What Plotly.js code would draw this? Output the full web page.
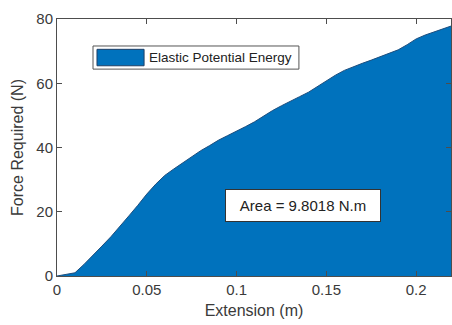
<!DOCTYPE html>
<html>
<head>
<meta charset="utf-8">
<script src="https://cdn.plot.ly/plotly-3.0.1.min.js"></script>
<style>html,body{margin:0;padding:0;background:#fff;}#chart{width:452px;height:325px;}</style>
</head>
<body>
<div id="chart"></div>
<script>
// Extension (m)
const extension = [0, 0.005, 0.01, 0.015, 0.02, 0.025, 0.03, 0.035, 0.04, 0.045, 0.05, 0.055, 0.06, 0.065, 0.07, 0.075, 0.08, 0.085, 0.09, 0.095, 0.1, 0.105, 0.11, 0.115, 0.12, 0.125, 0.13, 0.135, 0.14, 0.145, 0.15, 0.155, 0.16, 0.165, 0.17, 0.175, 0.18, 0.185, 0.19, 0.195, 0.2, 0.205, 0.21, 0.215, 0.2194];
// Force Required (N)
const force = [0, 0.4, 1.0, 3.6, 6.6, 9.3, 12.2, 15.3, 18.7, 22.0, 25.5, 28.6, 31.3, 33.3, 35.2, 37, 39, 40.6, 42.3, 43.7, 45, 46.5, 48, 49.8, 51.5, 53, 54.3, 55.8, 57.2, 59, 60.8, 62.5, 64, 65.2, 66.2, 67.2, 68.2, 69.2, 70.4, 72, 73.8, 75, 76, 77, 77.8];
const xTicks = [0, 0.05, 0.1, 0.15, 0.2];
const xTickLabels = ['0', '0.05', '0.1', '0.15', '0.2'];
const yTicks = [0, 20, 40, 60, 80];
const seriesName = 'Elastic Potential Energy';
const areaText = 'Area = 9.8018 N.m';
const areaPos = {x: 0.1372, y: 21.8};

const FONT = 'Liberation Sans, Arial, sans-serif';
const AX = '#4d4d4d';
const TXT = '#3a3a3a';
const FILL = '#0072BD';

const trace = {
  x: extension, y: force, type: 'scatter', mode: 'lines',
  fill: 'tozeroy', fillcolor: FILL,
  line: {color: '#1d4e7e', width: 1},
  name: seriesName, showlegend: false, hoverinfo: 'skip'
};

const axisCommon = {
  showgrid: false, zeroline: false, showline: true, linecolor: AX, linewidth: 1,
  mirror: 'ticks', ticks: 'inside', ticklen: 5, tickcolor: AX, tickwidth: 1,
  tickfont: {family: FONT, size: 15, color: TXT}
};

const layout = {
  width: 452, height: 325,
  margin: {l: 57, r: 1, t: 19, b: 49},
  paper_bgcolor: '#fff', plot_bgcolor: '#fff',
  showlegend: false,
  xaxis: Object.assign({}, axisCommon, {
    range: [0, 0.2194], tickvals: xTicks, ticktext: xTickLabels,
    title: {text: 'Extension (m)', font: {family: FONT, size: 16, color: TXT}, standoff: 7}
  }),
  yaxis: Object.assign({}, axisCommon, {
    range: [0, 80], tickvals: yTicks,
    title: {text: 'Force Required (N)', font: {family: FONT, size: 16, color: TXT}, standoff: 8}
  }),
  shapes: [
    {type: 'rect', xref: 'paper', yref: 'paper', x0: 0.0914, x1: 0.614, y0: 0.805, y1: 0.895,
     line: {color: '#555', width: 1}, fillcolor: '#fff', layer: 'above'},
    {type: 'rect', xref: 'paper', yref: 'paper', x0: 0.1015, x1: 0.221, y0: 0.818, y1: 0.882,
     line: {color: '#1d3f66', width: 1}, fillcolor: FILL, layer: 'above'}
  ],
  annotations: [
    {xref: 'paper', yref: 'paper', x: 0.2284, y: 0.85, xanchor: 'left', yanchor: 'middle',
     text: seriesName, showarrow: false, font: {family: FONT, size: 13.5, color: '#222'}},
    {xref: 'x', yref: 'y', x: areaPos.x, y: areaPos.y, xanchor: 'center', yanchor: 'middle',
     text: areaText, showarrow: false, bgcolor: '#fff', bordercolor: '#333', borderwidth: 1,
     borderpad: 7, width: 140, font: {family: FONT, size: 15, color: '#222'}}
  ]
};

Plotly.newPlot('chart', [trace], layout, {displayModeBar: false, staticPlot: true});
</script>
</body>
</html>
